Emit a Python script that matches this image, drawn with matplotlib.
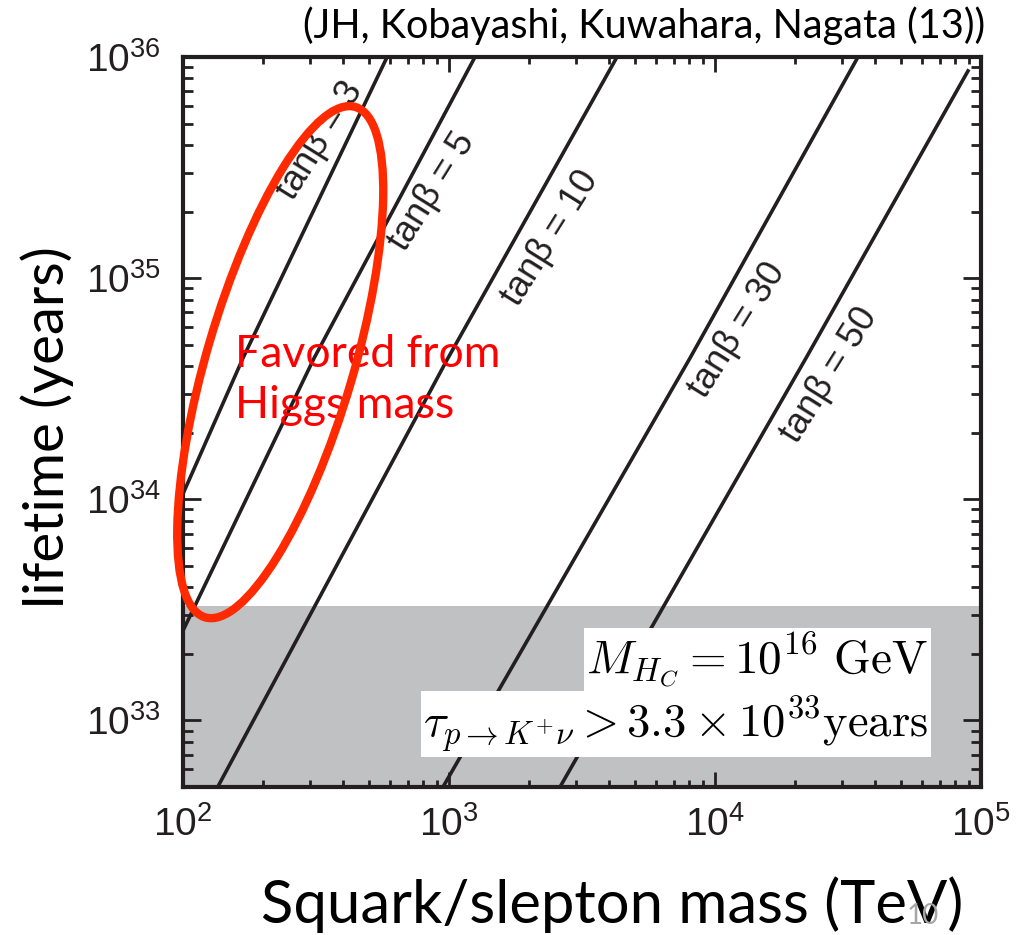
import matplotlib.pyplot as plt
from matplotlib.patches import Ellipse
from matplotlib.transforms import ScaledTranslation

plt.rcParams['font.family'] = ['Liberation Sans', 'DejaVu Sans']
plt.rcParams['mathtext.fontset'] = 'custom'
plt.rcParams['mathtext.rm'] = 'Liberation Sans'
plt.rcParams['mathtext.it'] = 'Liberation Sans:italic'
plt.rcParams['mathtext.bf'] = 'Liberation Sans:bold'

# proton lifetime vs sfermion mass, one curve per tan(beta)
tan_beta = [3, 5, 10, 30, 50]
mass_tb3 = [100, 168, 585]
life_tb3 = [1.06e34, 4.35e34, 1.0e36]
mass_tb5 = [100, 311, 1252]
life_tb5 = [2.55e33, 4.35e34, 1.0e36]
mass_tb10 = [135, 991, 4281]
life_tb10 = [5.0e32, 4.35e34, 1.0e36]
mass_tb30 = [949, 8054, 34480]
life_tb30 = [5.0e32, 4.35e34, 1.0e36]
mass_tb50 = [2614, 21985, 89370]
life_tb50 = [5.0e32, 4.35e34, 8.65e35]

# where the tan(beta) labels sit
label_mass = [327, 863, 2399, 12100, 27000]
label_life = [4.2e35, 2.45e35, 1.52e35, 5.82e34, 3.64e34]

# Super-K bound
tau_bound = 3.3e33
ymin, ymax = 5e32, 1e36

# Higgs-mass favored region (center in data units)
fav_mass, fav_life = 232, 4.17e34

ink = '#231f20'

fig = plt.figure(figsize=(10.26, 9.35), dpi=100)
ax = fig.add_axes([0.1784, 0.1583, 0.7777, 0.7807])
ax.set_xscale('log')
ax.set_yscale('log')
ax.set_xlim(1e2, 1e5)
ax.set_ylim(ymin, ymax)

ax.axhspan(ymin, tau_bound, color='#c0c1c3', lw=0, zorder=0)

curves = [(mass_tb3, life_tb3), (mass_tb5, life_tb5), (mass_tb10, life_tb10),
          (mass_tb30, life_tb30), (mass_tb50, life_tb50)]
for (m, t) in curves:
    ax.plot(m, t, color=ink, lw=2.6, zorder=2)

for tb, lm, ll in zip(tan_beta, label_mass, label_life):
    ax.text(lm, ll, f'tanβ = {tb}', rotation=58, rotation_mode='anchor',
            ha='center', va='center', fontsize=26, color=ink, zorder=3)

ax.text(0.934, 0.174, r'$M_{H_C} = 10^{16}\ \mathrm{GeV}$', transform=ax.transAxes,
        ha='right', va='center', fontsize=34, math_fontfamily='cm', zorder=4,
        bbox=dict(facecolor='white', edgecolor='none', pad=2))
ax.text(0.934, 0.086, r'$\tau_{p\rightarrow K^{+}\nu} > 3.3\times10^{33}\mathrm{years}$',
        transform=ax.transAxes, ha='right', va='center', fontsize=33.5,
        math_fontfamily='cm', zorder=4,
        bbox=dict(facecolor='white', edgecolor='none', pad=2))

# red ellipse: size in inches, anchored at a data point
ell = Ellipse((0, 0), 5.32, 1.47, angle=73.6, fill=False, ec='#ff2a00', lw=6,
              transform=fig.dpi_scale_trans + ScaledTranslation(fav_mass, fav_life, ax.transData),
              clip_on=False, zorder=6)
ax.add_patch(ell)
ax.text(157, 3.45e34, 'Favored from\nHiggs mass', color='red', fontsize=32,
        family='Lato', ha='left', va='center', linespacing=1.3, zorder=5)

ax.tick_params(which='both', direction='in', top=True, right=True, width=2,
               color=ink, labelcolor=ink, labelsize=28)
ax.tick_params(axis='x', which='major', length=11, pad=14)
ax.tick_params(axis='y', which='major', length=13, pad=16)
ax.tick_params(axis='x', which='minor', length=5)
ax.tick_params(axis='y', which='minor', length=7)
for s in ax.spines.values():
    s.set_linewidth(3)
    s.set_color(ink)

ax.set_xlabel('Squark/slepton mass (TeV)', fontsize=43, family='Lato')
ax.xaxis.set_label_coords(0.5376, -0.122)
ax.set_ylabel('lifetime (years)', fontsize=40.5, family='Lato')
ax.yaxis.set_label_coords(-0.137, 0.493)

fig.text(0.96, 0.973, '(JH, Kobayashi, Kuwahara, Nagata (13))', ha='right',
         va='center', fontsize=28.5, family='Lato')
fig.text(0.884, 0.012, '10', color='#a6a6a6', fontsize=20, family='Lato')

fig.savefig('out.png', dpi=100)
